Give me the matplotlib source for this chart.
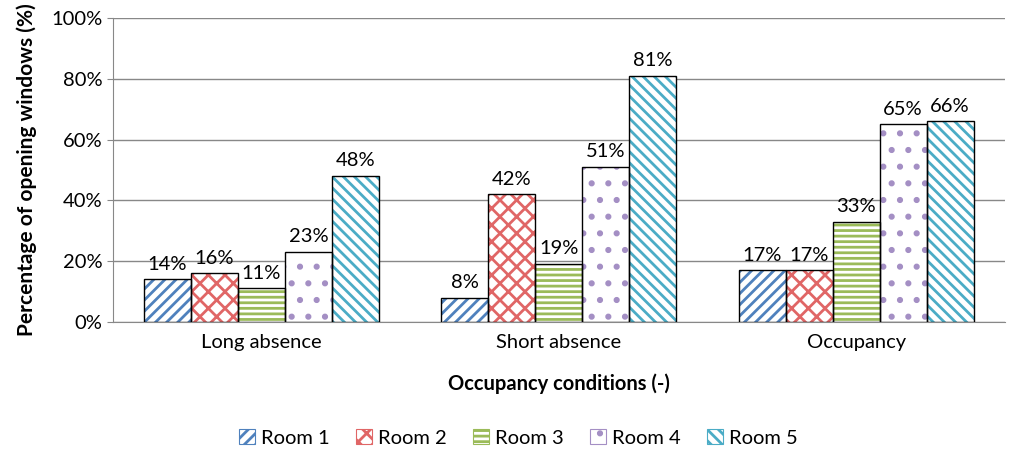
import matplotlib.pyplot as plt
import matplotlib.patches as mpatches
import numpy as np

# data
conditions = ['Long absence', 'Short absence', 'Occupancy']
rooms = ['Room 1', 'Room 2', 'Room 3', 'Room 4', 'Room 5']
room1 = [14, 8, 17]
room2 = [16, 42, 17]
room3 = [11, 19, 33]
room4 = [23, 51, 65]
room5 = [48, 81, 66]
yticks = [0, 20, 40, 60, 80, 100]

values = [room1, room2, room3, room4, room5]
hatch_colors = ['#4F81BD', '#E06666', '#9BBB59', '#A48FC4', '#4BACC6']
hatches = ['///', 'xx', '---', '.', '\\\\\\']

plt.rcParams['font.family'] = ['Lato', 'DejaVu Sans']
plt.rcParams['hatch.linewidth'] = 2.0

fig = plt.figure(figsize=(10.16, 4.49), dpi=100)
ax = fig.add_axes([0.111, 0.283, 0.878, 0.677])

x = np.arange(len(conditions))
width = 0.158
handles = []
for i, vals in enumerate(values):
    pos = x + (i - 2) * width
    ax.bar(pos, vals, width, color='white', edgecolor=hatch_colors[i],
           hatch=hatches[i], linewidth=0, zorder=2)
    ax.bar(pos, vals, width, fill=False, edgecolor='black', linewidth=1.0, zorder=3)
    for p, v in zip(pos, vals):
        ax.text(p, v + 2.2, f'{v}%', ha='center', va='bottom', fontsize=14.5)
    handles.append(mpatches.Patch(facecolor='white', edgecolor=hatch_colors[i],
                                  hatch=hatches[i], linewidth=0.8))

ax.set_xlim(-0.5, 2.5)
ax.set_ylim(0, 100)
ax.set_yticks(yticks)
ax.set_yticklabels([f'{t}%' for t in yticks], fontsize=14.5)
ax.set_xticks(x)
ax.set_xticklabels(conditions, fontsize=14.5)
ax.tick_params(axis='x', length=0, pad=9)
ax.tick_params(axis='y', length=4, color='#888888')
ax.yaxis.grid(True, color='#888888', linewidth=1.0, zorder=0)
ax.set_axisbelow(True)
for s in ['top', 'right']:
    ax.spines[s].set_visible(False)
ax.spines['left'].set_color('#888888')
ax.spines['bottom'].set_color('#888888')

ax.set_ylabel('Percentage of opening windows (%)', fontsize=15, fontweight='bold', labelpad=10)
ax.set_xlabel('Occupancy conditions (-)', fontsize=14.5, fontweight='bold', labelpad=16)

fig.legend(handles, rooms, loc='center', bbox_to_anchor=(0.51, 0.025), ncol=5,
           frameon=False, fontsize=14.5, handlelength=0.8, handleheight=0.8,
           handletextpad=0.3, columnspacing=1.3)

fig.savefig('out.png', dpi=100)
